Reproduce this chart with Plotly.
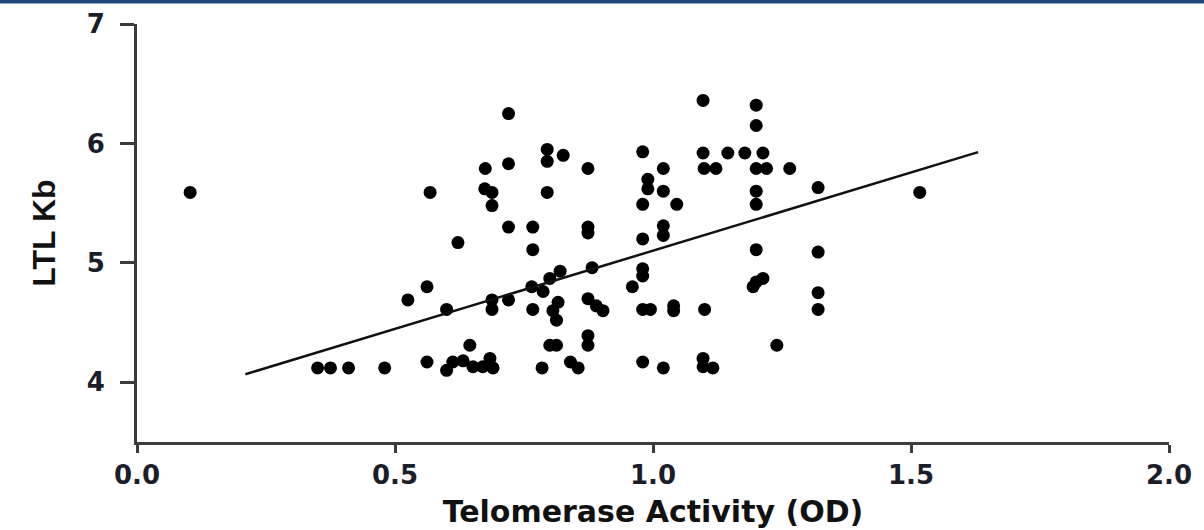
import plotly.graph_objects as go

# Telomerase activity (OD) vs LTL (Kb)
telomerase_od = [
    0.103, 0.35, 0.375, 0.41, 0.48, 0.525, 0.562, 0.568, 0.562, 0.60,
    0.60, 0.612, 0.632, 0.622, 0.645, 0.651, 0.67, 0.684, 0.69, 0.675,
    0.674, 0.688, 0.688, 0.688, 0.688, 0.72, 0.72, 0.72, 0.72, 0.765,
    0.767, 0.767, 0.767, 0.785, 0.787, 0.795, 0.826, 0.795, 0.795, 0.80,
    0.82, 0.816, 0.806, 0.813, 0.80, 0.813, 0.84, 0.855, 0.874, 0.874,
    0.874, 0.882, 0.874, 0.89, 0.903, 0.874, 0.874, 0.98, 1.02, 0.99,
    0.99, 1.02, 0.98, 1.046, 1.02, 1.02, 0.98, 0.98, 0.98, 0.96,
    0.98, 0.995, 1.04, 1.04, 0.98, 1.02, 1.097, 1.20, 1.20, 1.097,
    1.145, 1.178, 1.213, 1.099, 1.122, 1.20, 1.22, 1.265, 1.20, 1.20,
    1.32, 1.20, 1.32, 1.20, 1.213, 1.194, 1.32, 1.32, 1.10, 1.24,
    1.097, 1.097, 1.116, 1.517,
]
ltl_kb = [
    5.59, 4.12, 4.12, 4.12, 4.12, 4.69, 4.80, 5.59, 4.17, 4.61,
    4.10, 4.17, 4.18, 5.17, 4.31, 4.13, 4.13, 4.20, 4.12, 5.79,
    5.62, 5.59, 5.48, 4.69, 4.61, 6.25, 5.83, 5.30, 4.69, 4.80,
    5.30, 5.11, 4.61, 4.12, 4.76, 5.95, 5.90, 5.85, 5.59, 4.87,
    4.93, 4.67, 4.60, 4.52, 4.31, 4.31, 4.17, 4.12, 5.79, 5.30,
    5.25, 4.96, 4.70, 4.64, 4.60, 4.39, 4.31, 5.93, 5.79, 5.70,
    5.62, 5.60, 5.49, 5.49, 5.31, 5.23, 5.20, 4.95, 4.89, 4.80,
    4.61, 4.61, 4.64, 4.60, 4.17, 4.12, 6.36, 6.32, 6.15, 5.92,
    5.92, 5.92, 5.92, 5.79, 5.79, 5.79, 5.79, 5.79, 5.60, 5.49,
    5.63, 5.11, 5.09, 4.84, 4.87, 4.80, 4.75, 4.61, 4.61, 4.31,
    4.20, 4.13, 4.12, 5.59,
]

# Regression line
fit_x_range = [0.21, 1.63]
fit_slope = 1.31
fit_intercept = 3.792

x_ticks = [0.0, 0.5, 1.0, 1.5, 2.0]
y_ticks = [4, 5, 6, 7]

fit_y = [fit_intercept + fit_slope * v for v in fit_x_range]

axis_color = "#3c3c3c"
label_color = "#1b1d2b"
num_font = dict(family="DejaVu Sans", size=26, color=label_color, weight="bold")

fig = go.Figure()
fig.add_trace(go.Scatter(
    x=telomerase_od, y=ltl_kb, mode="markers",
    marker=dict(color="black", size=13, line=dict(width=0)),
    showlegend=False, hoverinfo="x+y", cliponaxis=False,
))
fig.add_trace(go.Scatter(
    x=fit_x_range, y=fit_y, mode="lines",
    line=dict(color="#111111", width=2.5),
    showlegend=False, hoverinfo="skip",
))

fig.update_layout(
    width=1204, height=530,
    margin=dict(l=137, r=35, t=24, b=88, autoexpand=False),
    paper_bgcolor="white", plot_bgcolor="white",
    shapes=[dict(type="rect", xref="paper", yref="paper",
                 x0=-137 / 1032, x1=1 + 35 / 1032,
                 y0=1 + 20.5 / 418, y1=1 + 24 / 418,
                 fillcolor="#1f4a7a", line=dict(width=0), layer="above")],
)
fig.update_xaxes(
    range=[0, 2.0], tickvals=x_ticks, tickformat=".1f",
    showline=True, linecolor=axis_color, linewidth=3,
    ticks="outside", ticklen=8, tickwidth=3, tickcolor=axis_color,
    showgrid=False, zeroline=False, tickfont=num_font,
    ticklabelstandoff=0, automargin=False,
    title=dict(text="Telomerase Activity (OD)", standoff=12,
               font=dict(family="DejaVu Sans", size=30, color="#111111", weight="bold")),
)
fig.update_yaxes(
    range=[3.5, 7.0], tickvals=y_ticks,
    showline=True, linecolor=axis_color, linewidth=3,
    ticks="outside", ticklen=14, tickwidth=3, tickcolor=axis_color,
    showgrid=False, zeroline=False, tickfont=num_font,
    ticklabelstandoff=10, automargin=False,
    title=dict(text="LTL Kb", standoff=22,
               font=dict(family="Liberation Sans Narrow, Liberation Sans", size=32,
                         color="#111111", weight="bold")),
)

fig.write_html(
    "out.html",
    config={"displayModeBar": False},
    post_script="document.body.style.margin='0';document.body.style.padding='0';",
)
